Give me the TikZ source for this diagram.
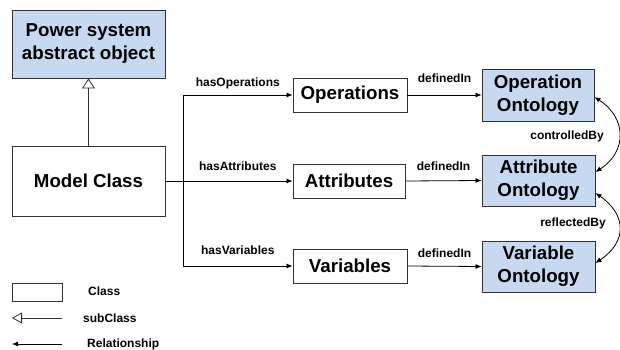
\documentclass[tikz,border=0pt]{standalone}
\usepackage{fontspec}
\setmainfont{Liberation Sans}
\usetikzlibrary{arrows.meta}
\definecolor{boxblue}{RGB}{198,217,241}
\definecolor{edgegray}{RGB}{50,50,50}
\tikzset{
  every node/.style={font=\bfseries},
  box/.style={draw=edgegray, line width=0.9pt, inner sep=0pt, align=center,
     font=\fontsize{18.7}{23}\selectfont\bfseries},
  onto/.style={box, fill=boxblue},
  lab/.style={inner sep=0pt, font=\fontsize{12}{13}\selectfont\bfseries},
  rel/.style={draw=black, line width=0.8pt, -{Latex[length=6pt,width=5pt]}},
  relboth/.style={draw=black, line width=0.8pt, {Latex[length=6pt,width=5pt]}-{Latex[length=6pt,width=5pt]}},
  sub/.style={draw=edgegray, line width=0.8pt, -{Triangle[open,length=10pt,width=13pt]}},
}
\begin{document}
\begin{tikzpicture}[x=1pt,y=-1pt]
\useasboundingbox (0,0) rectangle (620,350);
% class boxes
\node[onto, minimum width=153pt, minimum height=68pt] (pso) at (88.5,44) {Power system\\abstract object};
\node[box, minimum width=153pt, minimum height=70pt] (mc) at (88.5,181) {Model Class};
\node[box, minimum width=114pt, minimum height=34pt] (ops) at (350,95) {Operations};
\node[box, minimum width=112pt, minimum height=34pt] (att) at (349,181) {Attributes};
\node[box, minimum width=114pt, minimum height=34pt] (var) at (350,266) {Variables};
\node[onto, minimum width=112pt, minimum height=52pt] (oo) at (538,95) {Operation\\Ontology};
\node[onto, minimum width=113pt, minimum height=51pt] (ao) at (538.5,180.5) {Attribute\\Ontology};
\node[onto, minimum width=113pt, minimum height=51pt] (vo) at (538.5,266.5) {Variable\\Ontology};
% subclass
\draw[sub] (mc.north) -- (pso.south);
% relationships
\coordinate (j) at (183,181);
\draw[line width=0.8pt] (mc.east) -- (j);
\draw[rel] (j) -- node[lab, midway, yshift=15pt] {hasAttributes} (att.west);
\draw[rel] (j) |- node[lab, pos=0.75, yshift=12pt] {hasOperations} (ops.west);
\draw[rel] (j) |- node[lab, pos=0.75, yshift=16pt] {hasVariables} (var.west);
\draw[rel] (ops.east) -- node[lab, midway, yshift=17pt] {definedIn} (oo.west);
\draw[rel] (att.east) -- node[lab, midway, yshift=15pt] {definedIn} (ao.west);
\draw[rel] (var.east) -- node[lab, midway, yshift=13pt] {definedIn} (vo.west);
% curved relations
\draw[relboth] ([yshift=-2pt]oo.east) .. controls (627,118) and (627,152) .. ([yshift=8.5pt]ao.east);
\draw[relboth] ([yshift=-12.5pt]ao.east) .. controls (627,215) and (627,242) .. ([yshift=3.5pt]vo.east);
\node[lab] (cb) at (567,136) {controlledBy};
\node[lab] (rb) at (573,223) {reflectedBy};
% legend
\node[draw=edgegray, line width=0.8pt, minimum width=50pt, minimum height=18pt, inner sep=0pt] (lc) at (37,292) {};
\node[lab, anchor=west] (lct) at (88,291) {Class};
\coordinate (ls1) at (62,318);
\coordinate (ls2) at (12,318);
\draw[draw=edgegray, line width=0.8pt, -{Triangle[open,length=10pt,width=11pt]}] (ls1) -- (ls2);
\node[lab, anchor=west] (lst) at (83,318) {subClass};
\coordinate (lr1) at (62,344);
\coordinate (lr2) at (12,344);
\draw[rel] (lr1) -- (lr2);
\node[lab, anchor=west] (lrt) at (87,344) {Relationship};
\end{tikzpicture}
\end{document}
